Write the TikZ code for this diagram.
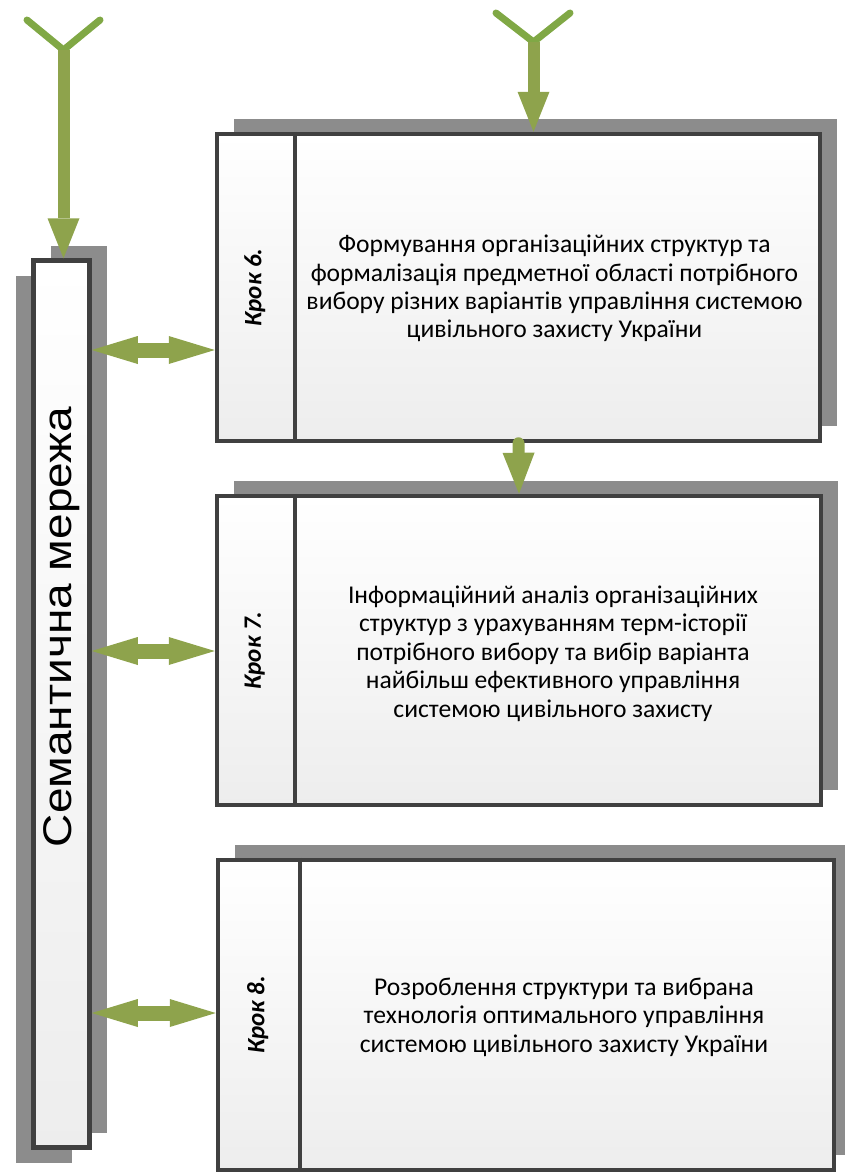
\documentclass[tikz,border=0pt]{standalone}
\usepackage{fontspec}
\setmainfont{Carlito}
\newfontfamily\semfont{Liberation Sans}
\usetikzlibrary{arrows.meta,shadows}
\definecolor{arrowgreen}{HTML}{8EA34C}
\definecolor{forkgreen}{HTML}{80A845}
\definecolor{framegray}{HTML}{404040}
\definecolor{shadegray}{HTML}{8C8C8C}

\begin{document}
\begin{tikzpicture}[x=1pt,y=-1pt]
\tikzstyle{stepbox}=[anchor=center,rectangle,draw=framegray,line width=4.5pt,top color=white,bottom color=black!7,general shadow={shadow xshift=17pt,shadow yshift=15pt,fill=shadegray}]
\tikzstyle{sembox}=[stepbox,general shadow={shadow xshift=-18pt,shadow yshift=-15pt,fill=shadegray}]
\tikzstyle{divider}=[draw=framegray,line width=4.5pt]
\tikzstyle{steplabel}=[anchor=center,rotate=90,font=\fontsize{25}{25}\selectfont\bfseries\itshape]
\tikzstyle{steptext}=[anchor=center,align=center,font=\fontsize{25.6}{28.4}\selectfont]
\tikzstyle{fork}=[draw=forkgreen,line width=7pt,line cap=round,line join=round]
\tikzstyle{bigarrow}=[-{Triangle[width=32pt,length=40pt,line width=0pt]},draw=arrowgreen,fill=arrowgreen,line width=12pt]
\tikzstyle{dblarrow}=[{Triangle[width=28pt,length=46pt,line width=0pt]}-{Triangle[width=28pt,length=46pt,line width=0pt]},draw=arrowgreen,fill=arrowgreen,line width=15pt]

\useasboundingbox (0,0) rectangle (845,1173);

% semantic network column
\node [sembox,minimum width=56pt,minimum height=887pt] at (61.5,704) (sem) {};
\node [anchor=center,rotate=90] at (61.5,627) (semtext) {\scalebox{1.15}[1]{\semfont\fontsize{40}{40}\selectfont Семантична мережа}};

% step 6
\node [stepbox,minimum width=603pt,minimum height=307pt] at (518.5,287.5) (box6) {};
\path [divider] ([xshift=80pt]box6.north west) -- ([xshift=80pt]box6.south west);
\node [steplabel] at ([xshift=40pt]box6.west) (lab6) {Крок 6.};
\node [steptext] at ([xshift=36pt,yshift=-1pt]box6.center) (txt6) {Формування організаційних структур та\\формалізація предметної області потрібного\\вибору різних варіантів управління системою\\цивільного захисту України};

% step 7
\node [stepbox,minimum width=604pt,minimum height=309pt] at (519,650.5) (box7) {};
\path [divider] ([xshift=80pt]box7.north west) -- ([xshift=80pt]box7.south west);
\node [steplabel] at ([xshift=40pt]box7.west) (lab7) {Крок 7.};
\node [steptext] at ([xshift=34pt,yshift=-3pt]box7.center) (txt7) {Інформаційний аналіз організаційних\\структур з урахуванням терм-історії\\потрібного вибору та вибір варіанта\\найбільш ефективного управління\\системою цивільного захисту};

% step 8
\node [stepbox,minimum width=616pt,minimum height=310pt] at (526,1015) (box8) {};
\path [divider] ([xshift=84pt]box8.north west) -- ([xshift=84pt]box8.south west);
\node [steplabel] at ([xshift=42pt]box8.west) (lab8) {Крок 8.};
\node [steptext] at ([xshift=38pt,yshift=-2pt]box8.center) (txt8) {Розроблення структури та вибрана\\технологія оптимального управління\\системою цивільного захисту України};

% inputs
\coordinate (fork1) at (63.5,50);
\coordinate (fork2) at (533.5,42);
\path [fork] (27,20) -- (fork1) -- (100,20);
\path [fork] (496,13) -- (fork2) -- (570,13);
\path (fork1) edge [bigarrow] (fork1 |- sem.north);
\path (fork2) edge [bigarrow] (fork2 |- box6.north);
\path (box6.south) edge [bigarrow,line cap=round,-{Triangle[width=32pt,length=41pt,line width=0pt]}] (box7.north);

% links to the network
\path (sem.east |- 0,350) edge [dblarrow] (box6.west |- 0,350);
\path (sem.east |- 0,651) edge [dblarrow] (box7.west |- 0,651);
\path (sem.east |- 0,1013) edge [dblarrow] (box8.west |- 0,1013);
\end{tikzpicture}
\end{document}
